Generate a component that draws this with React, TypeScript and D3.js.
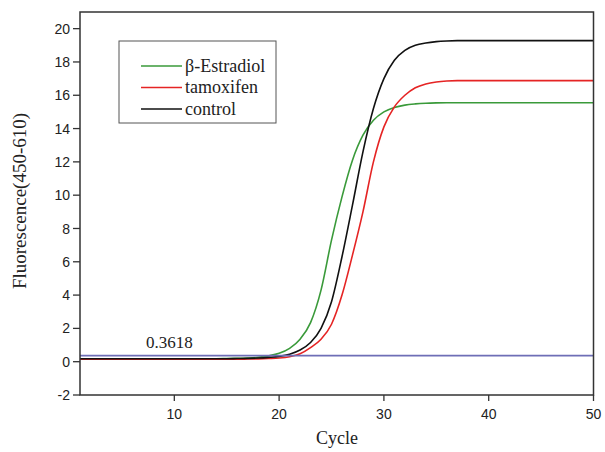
import React from "react";
import * as d3 from "d3";

const cycles = [
  1, 2, 3, 4, 5, 6, 7, 8, 9, 10, 11, 12, 13, 14, 15, 16, 17, 18, 19, 20, 21, 22, 23, 24, 25,
  26, 27, 28, 29, 30, 31, 32, 33, 34, 35, 36, 37, 38, 39, 40, 41, 42, 43, 44, 45, 46, 47, 48, 49, 50,
];

const estradiol = [
  0.18, 0.18, 0.18, 0.18, 0.18, 0.18, 0.18, 0.18, 0.18, 0.18, 0.18, 0.18, 0.18, 0.18, 0.19,
  0.2, 0.22, 0.26, 0.35, 0.5, 0.8, 1.35, 2.35, 4.3, 7.3, 9.9, 12.1, 13.6, 14.5, 15.0, 15.27,
  15.41, 15.48, 15.52, 15.54, 15.55, 15.55, 15.55, 15.55, 15.55, 15.55, 15.55, 15.55, 15.55,
  15.55, 15.55, 15.55, 15.55, 15.55, 15.55,
];

const tamoxifen = [
  0.15, 0.15, 0.15, 0.15, 0.15, 0.15, 0.15, 0.15, 0.15, 0.15, 0.15, 0.15, 0.15, 0.15, 0.15,
  0.15, 0.16, 0.17, 0.19, 0.22, 0.3, 0.48, 0.85, 1.35, 2.25, 4.0, 6.4, 9.0, 12.0, 14.1, 15.3,
  16.0, 16.45, 16.68, 16.8, 16.86, 16.88, 16.88, 16.88, 16.88, 16.88, 16.88, 16.88, 16.88,
  16.88, 16.88, 16.88, 16.88, 16.88, 16.88,
];

const control = [
  0.18, 0.18, 0.18, 0.18, 0.18, 0.18, 0.18, 0.18, 0.18, 0.18, 0.18, 0.18, 0.18, 0.18, 0.18,
  0.19, 0.2, 0.22, 0.26, 0.32, 0.45, 0.7, 1.15, 2.0, 3.6, 6.3, 9.4, 12.6, 15.2, 17.0, 18.1,
  18.7, 19.0, 19.14, 19.22, 19.26, 19.28, 19.28, 19.28, 19.28, 19.28, 19.28, 19.28, 19.28,
  19.28, 19.28, 19.28, 19.28, 19.28, 19.28,
];

const seriesNames = ["β-Estradiol", "tamoxifen", "control"];
const seriesColors = ["#3a9a3a", "#e52424", "#111111"];
const seriesValues = [estradiol, tamoxifen, control];

const threshold = 0.3618;
const thresholdLabel = "0.3618";
const yTicks = [-2, 0, 2, 4, 6, 8, 10, 12, 14, 16, 18, 20];
const xTicks = [10, 20, 30, 40, 50];
const xDomain = [1, 50];
const yDomain = [-2, 21];

export default function App() {
  const left = 80;
  const right = 593.5;
  const top = 12;
  const bottom = 395;
  const x = d3.scaleLinear().domain(xDomain).range([left, right]);
  const y = d3.scaleLinear().domain(yDomain).range([bottom, top]);
  const line = d3
    .line<number>()
    .x((_, i) => x(cycles[i]))
    .y((d) => y(d))
    .curve(d3.curveMonotoneX);

  const serif = "'Liberation Serif', 'Times New Roman', serif";
  const sans = "'Liberation Sans', Arial, sans-serif";
  const axisColor = "#333";

  return (
    <svg
      width={605}
      height={452}
      style={{ position: "absolute", left: 0, top: 0, background: "#fff" }}
    >
      <rect x={0} y={0} width={605} height={452} fill="#fff" />
      {seriesValues.map((vals, i) => (
        <path
          key={seriesNames[i]}
          d={line(vals) || ""}
          fill="none"
          stroke={seriesColors[i]}
          strokeWidth={1.6}
        />
      ))}
      <line
        x1={left}
        x2={right}
        y1={y(threshold)}
        y2={y(threshold)}
        stroke="#6e6eb6"
        strokeWidth={1.8}
      />
      <text x={x(7.3)} y={348} fontFamily={serif} fontSize={17} fill="#222">
        {thresholdLabel}
      </text>
      <rect
        x={left}
        y={top}
        width={right - left}
        height={bottom - top}
        fill="none"
        stroke={axisColor}
        strokeWidth={1.5}
      />
      {yTicks.map((t) => (
        <g key={"y" + t}>
          <line x1={left - 7} x2={left} y1={y(t)} y2={y(t)} stroke={axisColor} strokeWidth={1.3} />
          <text
            x={left - 10}
            y={y(t)}
            dy="0.36em"
            textAnchor="end"
            fontFamily={sans}
            fontSize={14}
            fill="#222"
          >
            {t}
          </text>
        </g>
      ))}
      {xTicks.map((t) => (
        <g key={"x" + t}>
          <line x1={x(t)} x2={x(t)} y1={bottom} y2={bottom + 6} stroke={axisColor} strokeWidth={1.3} />
          <text
            x={x(t)}
            y={bottom + 24}
            textAnchor="middle"
            fontFamily={sans}
            fontSize={14}
            fill="#222"
          >
            {t}
          </text>
        </g>
      ))}
      <text
        x={337}
        y={444}
        textAnchor="middle"
        fontFamily={serif}
        fontSize={18}
        fill="#222"
      >
        Cycle
      </text>
      <text
        transform="translate(26,201) rotate(-90)"
        textAnchor="middle"
        fontFamily={serif}
        fontSize={19}
        fill="#222"
      >
        Fluorescence(450-610)
      </text>
      <rect x={119} y={41} width={157} height={82} fill="#fff" stroke="#555" strokeWidth={1} />
      {seriesNames.map((name, i) => {
        const ly = 66 + i * 21.5;
        return (
          <g key={"lg" + name}>
            <line x1={141} x2={182} y1={ly} y2={ly} stroke={seriesColors[i]} strokeWidth={1.6} />
            <text x={185} y={ly + 5.5} fontFamily={serif} fontSize={18} fill="#222">
              {name}
            </text>
          </g>
        );
      })}
    </svg>
  );
}
